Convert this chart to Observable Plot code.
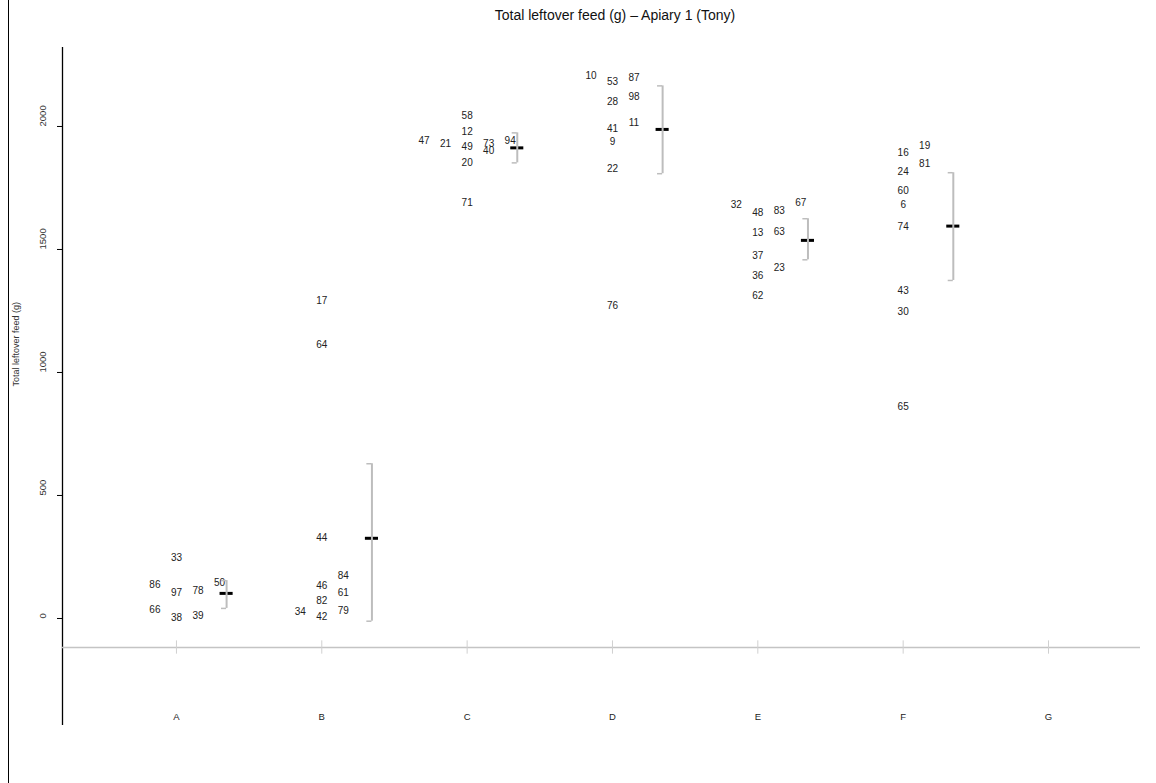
<!DOCTYPE html>
<html><head><meta charset="utf-8">
<script src="https://cdn.jsdelivr.net/npm/d3@7"></script>
<script src="https://cdn.jsdelivr.net/npm/@observablehq/plot@0.6"></script>
<style>
body{margin:0;background:#fff;font-family:"Liberation Sans",Arial,sans-serif;}
#wrap{position:relative;width:1156px;height:783px;overflow:hidden;background:#fff}
#border{position:absolute;left:8px;top:0;width:1px;height:783px;background:#000}
#title{height:30px;line-height:30px;padding-left:74px;width:1082px;text-align:center;font-size:14px;color:#111}
</style></head><body>
<div id="wrap"><div id="border"></div><div id="title">Total leftover feed (g) – Apiary 1 (Tony)</div><div id="chart"></div></div>
<script>
const categories = ["A","B","C","D","E","F","G"];
const yTicks = [0, 500, 1000, 1500, 2000];

// individual hives: group, label, horizontal slot, value (g)
const pointGroup = ["A","A","A","A","A","A","A","A",
  "B","B","B","B","B","B","B","B","B","B",
  "C","C","C","C","C","C","C","C","C","C",
  "D","D","D","D","D","D","D","D","D","D",
  "E","E","E","E","E","E","E","E","E","E",
  "F","F","F","F","F","F","F","F","F","F"];
const pointLabel = ["33","86","97","78","50","66","38","39",
  "17","64","44","84","46","61","82","34","79","42",
  "58","12","47","21","49","73","40","94","20","71",
  "10","53","87","28","98","11","41","9","22","76",
  "32","48","83","67","13","63","37","23","36","62",
  "19","16","81","24","60","6","74","43","30","65"];
const pointSlot = [0,-1,0,1,2,-1,0,1,
  0,0,0,1,0,1,0,-1,1,0,
  0,0,-2,-1,0,1,1,2,0,0,
  -1,0,1,0,1,1,0,0,0,0,
  -1,0,1,2,0,1,0,1,0,0,
  1,0,1,0,0,0,0,0,0,0];
const pointValue = [248,138,106,114,146,37,4,12,
  1290,1114,326,175,134,104,73,26,33,5,
  2045,1980,1943,1930,1916,1930,1902,1940,1852,1688,
  2207,2180,2198,2099,2119,2015,1991,1937,1828,1272,
  1683,1648,1659,1688,1566,1573,1476,1424,1394,1313,
  1923,1892,1848,1815,1740,1683,1591,1333,1248,862];

// group means and interval bounds
const statGroup = ["A","B","C","D","E","F"];
const meanValue = [102, 326, 1913, 1988, 1537, 1595];
const ciLow = [41, -11, 1852, 1808, 1458, 1374];
const ciHigh = [154, 629, 1974, 2165, 1625, 1812];

const baseline = -118;
const xDomain = [0.216, 7.633];
const slotW = 0.148, barOff = 0.345, dashHalf = 0.045, capW = 0.035, tickHalf = 27;

const xOf = g => categories.indexOf(g) + 1;
const points = pointLabel.map((l, i) => ({label: l, x: xOf(pointGroup[i]) + pointSlot[i] * slotW, v: pointValue[i]}));
const stats = statGroup.map((g, i) => ({x: xOf(g) + barOff, m: meanValue[i], lo: ciLow[i], hi: ciHigh[i]}));
const cats = categories.map((c, i) => ({c, x: i + 1}));

const chart = Plot.plot({
  width: 1156, height: 753,
  marginLeft: 62, marginRight: 16, marginTop: 17, marginBottom: 58,
  x: {type: "linear", domain: xDomain, axis: null},
  y: {domain: [-435, 2321], axis: null},
  style: {fontFamily: '"Liberation Sans", Arial, sans-serif', background: "white", color: "#222"},
  marks: [
    Plot.ruleX([xDomain[0]], {stroke: "#000", strokeWidth: 1.3}),
    Plot.axisY({ticks: yTicks, tickSize: 5, tickFormat: () => "", stroke: "#000"}),
    Plot.text(yTicks, {y: d => d, text: d => String(d), frameAnchor: "left", dx: -20, rotate: -90, fontSize: 9.5, fill: "#333"}),
    Plot.text(["Total leftover feed (g)"], {text: d => d, frameAnchor: "left", dx: -46, rotate: -90, fontSize: 9, fill: "#333"}),
    Plot.ruleY([baseline], {stroke: "#c4c4c4", strokeWidth: 1.5}),
    Plot.ruleX(cats, {x: "x", y1: baseline + tickHalf, y2: baseline - tickHalf, stroke: "#d0d0d0"}),
    Plot.text(cats, {x: "x", text: "c", frameAnchor: "bottom", dy: -6, fontSize: 9.5, fill: "#222"}),
    Plot.text(points, {x: "x", y: "v", text: "label", fontSize: 10, fill: "#222"}),
    Plot.ruleY(stats, {y: "m", x1: d => d.x - dashHalf, x2: d => d.x + dashHalf, stroke: "#000", strokeWidth: 3}),
    Plot.ruleX(stats, {x: "x", y1: "lo", y2: "hi", stroke: "#bdbdbd", strokeWidth: 2}),
    Plot.ruleY(stats, {y: "lo", x1: d => d.x - capW, x2: "x", stroke: "#bdbdbd", strokeWidth: 1.5}),
    Plot.ruleY(stats, {y: "hi", x1: d => d.x - capW, x2: "x", stroke: "#bdbdbd", strokeWidth: 1.5})
  ]
});
document.getElementById("chart").appendChild(chart);
</script>
</body></html>
